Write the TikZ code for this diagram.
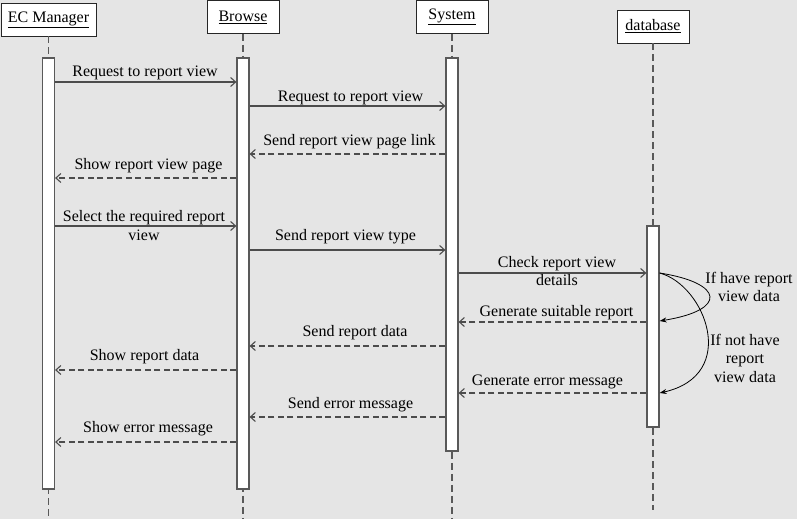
\documentclass[tikz,border=0pt]{standalone}
\usepackage{fontspec}
\setmainfont{Liberation Serif}
\usetikzlibrary{arrows.meta}

\begin{document}
\begin{tikzpicture}[x=1pt,y=-1pt,
				font=\fontsize{16}{18.5}\selectfont,
				bg/.style={fill=black!10},
				actor/.style={draw=black!85,fill=white,line width=0.9pt,
					inner sep=0pt,minimum height=33pt},
				life/.style={draw=black!65,line width=1.2pt,
					dash pattern=on 7pt off 4pt},
				actbar/.style={draw=black!65,fill=white,line width=1.2pt,
					minimum width=12pt,inner sep=0pt},
				msg/.style={draw=black!70,line width=1.1pt,
					-{Straight Barb[length=5pt,width=9pt]}},
				rep/.style={msg,dash pattern=on 6pt off 3.5pt},
				lbl/.style={anchor=base,inner sep=0pt,align=center},
				alt/.style={draw=black,line width=0.8pt,
					-{Stealth[length=7pt,width=5pt]}}]

				\useasboundingbox (0,0) rectangle (797,519);
				\fill[bg] (0,0) rectangle (797,519);

				%%%%%%%%%%%%%%%%  actors and lifelines  %%%%%%%%%%%%%%%%
				\foreach \n/\x/\y/\w/\txt in {ec/48.5/19.5/95/EC Manager,
						br/243/17/72/Browse, sys/452/17/72/System,
						db/653/26.5/72/database} {
					\node[actor,minimum width=\w pt] (\n) at (\x,\y) {\underline{\txt}};
				}
				\coordinate (ecend) at (48.5,519);
				\coordinate (brend) at (243,519);
				\coordinate (sysend) at (452,519);
				\coordinate (dbend) at (653,510);
				\foreach \n in {ec,br,sys,db}
					\draw[life] (\n.south) -- (\n end);

				% activation bars
				\node[actbar,minimum height=431pt] (ecbar) at (48.5,273.5) {};
				\node[actbar,minimum height=431pt] (brbar) at (243,273.5) {};
				\node[actbar,minimum height=393pt] (sysbar) at (452,254.5) {};
				\node[actbar,minimum height=201pt] (dbbar) at (653,326.5) {};

				%%%%%%%%%%%%%%%%  messages  %%%%%%%%%%%%%%%%
				\foreach \a/\b/\y/\sty/\lx/\ly/\txt [count=\i] in {
						ecbar.east/brbar.west/82/msg/145/76.5/{Request to report view},
						brbar.east/sysbar.west/106/msg/350.5/101.5/{Request to report view},
						sysbar.west/brbar.east/154/rep/349.5/145/{Send report view page link},
						brbar.west/ecbar.east/178/rep/148.5/169/{Show report view page},
						ecbar.east/brbar.west/226/msg/144/240/{Select the required report\\view},
						brbar.east/sysbar.west/250/msg/345.5/240.5/{Send report view type},
						sysbar.east/dbbar.west/273/msg/557/285.7/{Check report view\\details},
						dbbar.west/sysbar.east/322/rep/556.5/316/{Generate suitable report},
						sysbar.west/brbar.east/346/rep/355/336.5/{Send report data},
						brbar.west/ecbar.east/370/rep/144.5/360/{Show report data},
						dbbar.west/sysbar.east/393/rep/547.5/385.5/{Generate error message},
						sysbar.west/brbar.east/417/rep/350.5/408/{Send error message},
						brbar.west/ecbar.east/442/rep/148/432.5/{Show error message}} {
					\draw[\sty] (\a |- 0,\y) -- (\b |- 0,\y);
					\node[lbl] (lbl\i) at (\lx,\ly) {\txt};
				}

				% the two outcomes of the check
				\draw[alt] (dbbar.east |- 0,273) .. controls (724,283) and (728,310)
					.. (dbbar.east |- 0,321);
				\draw[alt] (dbbar.east |- 0,273) .. controls (705,285) and (740,375)
					.. (dbbar.east |- 0,393);
				\node[lbl] (have) at (749,301.7) {If have report\\view data};
				\node[lbl] (nothave) at (745,382) {If not have\\report\\view data};
			\end{tikzpicture}
\end{document}
